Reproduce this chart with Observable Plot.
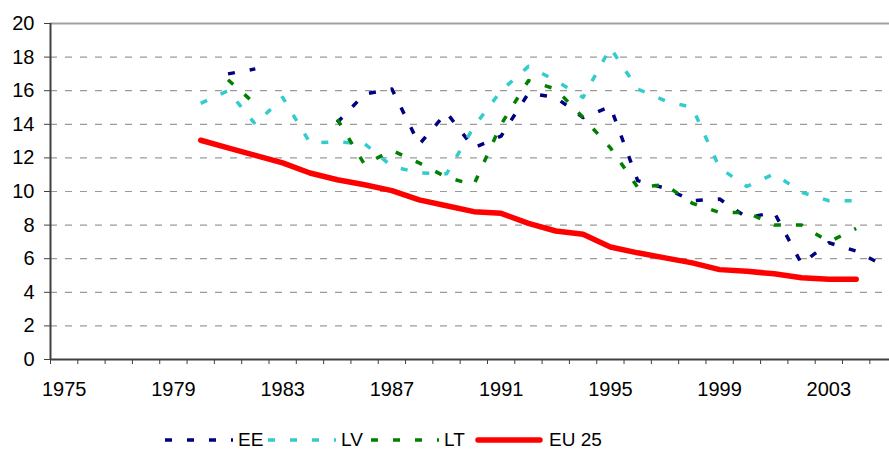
<!DOCTYPE html>
<html><head><meta charset="utf-8">
<script src="https://cdn.jsdelivr.net/npm/d3@7"></script>
<script src="https://cdn.jsdelivr.net/npm/@observablehq/plot@0.6"></script>
<style>
html,body{margin:0;padding:0;background:#fff;overflow:hidden;}
#wrap{position:relative;width:889px;height:453px;font-family:"Liberation Sans",Arial,sans-serif;}
#chart svg{display:block;}
#legend{position:absolute;left:0;top:428px;height:24px;width:889px;}
.item{position:absolute;top:0;height:24px;display:flex;align-items:center;font-size:19px;color:#000;white-space:nowrap;}
.item svg{display:block;margin-right:5px;}
</style></head><body>
<div id="wrap"><div id="chart"></div><div id="legend"></div></div>
<script>
// ---- data ----
const years = [1980,1981,1982,1983,1984,1985,1986,1987,1988,1989,1990,1991,1992,1993,1994,1995,1996,1997,1998,1999,2000,2001,2002,2003,2004,2005];
const EE   = [null,17.0,17.3,null,null,14.1,15.8,16.1,12.8,14.7,12.6,13.3,15.85,15.6,14.4,15.05,10.65,10.2,9.45,9.55,8.45,8.75,5.7,6.95,6.45,5.6];
const LV   = [15.25,16.0,14.0,15.6,12.9,12.95,12.85,11.5,11.1,11.05,13.85,16.0,17.45,16.6,15.6,18.55,16.1,15.4,15.0,11.4,10.3,11.05,9.95,9.45,9.45,null];
const LT   = [null,16.65,15.2,null,null,14.3,11.6,12.45,11.7,10.85,10.4,14.0,16.6,16.1,14.4,12.6,10.25,10.4,9.3,8.75,8.75,8.0,8.0,7.0,7.8,null];
const EU25 = [13.05,12.6,12.15,11.7,11.1,10.7,10.4,10.05,9.5,9.15,8.8,8.7,8.1,7.65,7.45,6.7,6.35,6.05,5.75,5.35,5.25,5.1,4.87,4.77,4.77,null];
const seriesNames = ["EE","LV","LT","EU 25"];
const seriesValues = [EE, LV, LT, EU25];
const yTicks = [0,2,4,6,8,10,12,14,16,18,20];
const xTickLabels = [1975,1979,1983,1987,1991,1995,1999,2003];
const firstYear = 1975, lastYear = 2005;

// ---- styles ----
const styles = {
  "EE":    {stroke:"#000080", strokeWidth:3.5, dash:"7,15", cap:"butt"},
  "LV":    {stroke:"#33CCCC", strokeWidth:3.5, dash:"7,15", cap:"butt"},
  "LT":    {stroke:"#008000", strokeWidth:3.5, dash:"7,15", cap:"butt"},
  "EU 25": {stroke:"#FF0000", strokeWidth:5.5, dash:null, cap:"round"}
};

const rows = [];
seriesNames.forEach((name, s) => {
  years.forEach((yr, i) => rows.push({series: name, year: yr, value: seriesValues[s][i]}));
});

const xDomain = [firstYear - 0.5, 2005.22];
const boundaries = d3.range(firstYear - 0.5, lastYear, 1);

const lineMarks = seriesNames.map(name => {
  const st = styles[name];
  return Plot.line(rows.filter(d => d.series === name), {
    x: "year", y: "value",
    stroke: st.stroke, strokeWidth: st.strokeWidth,
    strokeDasharray: st.dash || undefined,
    strokeLinecap: st.cap, strokeLinejoin: "round"
  });
});

const chart = Plot.plot({
  width: 889, height: 410,
  marginLeft: 50, marginRight: 0, marginTop: 23, marginBottom: 51,
  x: {domain: xDomain, label: null},
  y: {domain: [0, 20], label: null},
  style: {fontFamily: '"Liberation Sans", Arial, sans-serif', fontSize: "20px", color: "#000", background: "#fff"},
  marks: [
    Plot.ruleY(yTicks.filter(d => d > 0 && d < 20), {stroke: "#9a9a9a", strokeWidth: 1.2, strokeDasharray: "7,8"}),
    Plot.ruleY([20], {stroke: "#a0a0a0", strokeWidth: 2}),
    ...lineMarks,
    Plot.ruleY([0], {stroke: "#404040", strokeWidth: 2}),
    Plot.ruleX([xDomain[0]], {stroke: "#404040", strokeWidth: 2}),
    Plot.axisY({ticks: yTicks, tickSize: 6, tickPadding: 10, label: null, stroke: "#404040", tickFormat: d => String(d)}),
    Plot.axisX({ticks: boundaries, tickSize: 5, tickFormat: () => "", label: null, stroke: "#404040"}),
    Plot.axisX({ticks: xTickLabels, tickSize: 0, tickPadding: 22, tickFormat: d => String(d), label: null})
  ]
});
document.getElementById("chart").appendChild(chart);

// ---- legend ----
const legendPos = [
  {name: "EE", left: 165},
  {name: "LV", left: 268},
  {name: "LT", left: 371},
  {name: "EU 25", left: 474}
];
const legend = document.getElementById("legend");
legendPos.forEach(p => {
  const st = styles[p.name];
  const item = document.createElement("div");
  item.className = "item";
  item.style.left = p.left + "px";
  const w = st.dash ? 68 : 70;
  const dashAttr = st.dash ? `stroke-dasharray="${st.dash}"` : "";
  item.innerHTML = `<svg width="${w}" height="24"><line x1="${st.cap==='round'?4:0}" x2="${st.cap==='round'?w-4:w}" y1="12" y2="12" stroke="${st.stroke}" stroke-width="${st.strokeWidth}" stroke-linecap="${st.cap}" ${dashAttr}/></svg><span>${p.name}</span>`;
  legend.appendChild(item);
});
</script>
</body></html>
